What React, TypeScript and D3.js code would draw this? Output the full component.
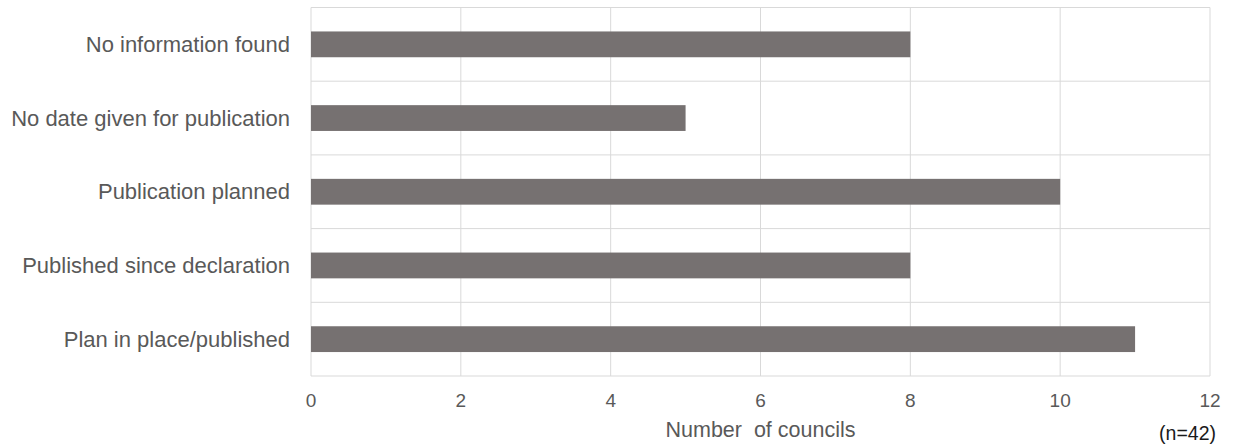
import React, { useRef, useEffect } from 'react';
import * as d3 from 'd3';

const categories = [
  'No information found',
  'No date given for publication',
  'Publication planned',
  'Published since declaration',
  'Plan in place/published',
];
const councils = [8, 5, 10, 8, 11];
const xTicks = [0, 2, 4, 6, 8, 10, 12];

const width = 1236;
const height = 446;

export default function App() {
  const ref = useRef<SVGSVGElement>(null);

  useEffect(() => {
    const svg = d3.select(ref.current);
    svg.selectAll('*').remove();

    const left = 311, right = 1210, top = 7.5, bottom = 376;
    const font = '"Liberation Sans", Arial, sans-serif';
    const textColor = '#595959';

    const x = d3.scaleLinear().domain([0, 12]).range([left, right]);
    const y = d3.scaleBand<string>()
      .domain(categories)
      .range([top, bottom])
      .paddingInner(0.65)
      .paddingOuter(0.325);

    const step = y.step();

    // vertical gridlines
    svg.append('g')
      .selectAll('line')
      .data(xTicks)
      .enter()
      .append('line')
      .attr('x1', d => x(d))
      .attr('x2', d => x(d))
      .attr('y1', top)
      .attr('y2', bottom)
      .attr('stroke', '#d9d9d9')
      .attr('stroke-width', 1);

    // horizontal separators
    const seps = d3.range(categories.length + 1).map(i => top + i * step);
    svg.append('g')
      .selectAll('line')
      .data(seps)
      .enter()
      .append('line')
      .attr('x1', left)
      .attr('x2', right)
      .attr('y1', d => d)
      .attr('y2', d => d)
      .attr('stroke', '#d9d9d9')
      .attr('stroke-width', 1);

    // bars
    svg.append('g')
      .selectAll('rect')
      .data(categories)
      .enter()
      .append('rect')
      .attr('x', x(0))
      .attr('y', d => y(d)!)
      .attr('width', (d, i) => x(councils[i]) - x(0))
      .attr('height', y.bandwidth())
      .attr('fill', '#767171');

    // category labels
    svg.append('g')
      .selectAll('text')
      .data(categories)
      .enter()
      .append('text')
      .text(d => d)
      .attr('x', 290)
      .attr('y', d => y(d)! + y.bandwidth() / 2)
      .attr('dy', '0.35em')
      .attr('text-anchor', 'end')
      .style('font-family', font)
      .style('font-size', '22px')
      .attr('fill', textColor);

    // x tick labels
    svg.append('g')
      .selectAll('text')
      .data(xTicks)
      .enter()
      .append('text')
      .text(d => d)
      .attr('x', d => x(d))
      .attr('y', 407)
      .attr('text-anchor', 'middle')
      .style('font-family', font)
      .style('font-size', '19px')
      .attr('fill', textColor);

    svg.append('text')
      .text('Number  of councils')
      .attr('x', (left + right) / 2)
      .attr('y', 437)
      .attr('text-anchor', 'middle')
      .style('white-space', 'pre')
      .style('font-family', font)
      .style('font-size', '21.5px')
      .attr('fill', textColor);

    svg.append('text')
      .text('(n=42)')
      .attr('x', 1216)
      .attr('y', 440)
      .attr('text-anchor', 'end')
      .style('font-family', font)
      .style('font-size', '19.5px')
      .attr('fill', '#1a1a1a');
  }, []);

  return (
    <svg
      ref={ref}
      width={width}
      height={height}
      style={{ position: 'absolute', top: 0, left: 0, background: '#fff' }}
    ></svg>
  );
}
